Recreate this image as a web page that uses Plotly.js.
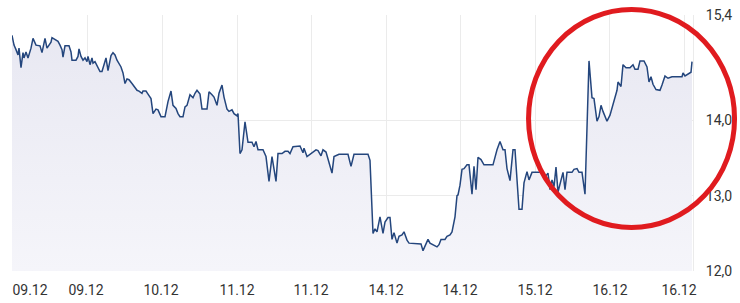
<!DOCTYPE html>
<html>
<head>
<meta charset="utf-8">
<script src="https://cdn.plot.ly/plotly-3.0.1.min.js"></script>
<style>html,body{margin:0;padding:0;background:#fff;}#chart{width:740px;height:303px;}</style>
</head>
<body>
<div id="chart"></div>
<script>
// time index (trading-time units)
const timeIdx = [0,2,4,6,7,9,11,12,14,16,19,21,24,26,28,30,33,35,37,39,40,43,46,48,50,51,53,57,59,60,
64,66,67,69,71,73,75,76,78,80,81,83,86,88,90,94,96,99,101,103,105,109,111,113,115,117,120,122,125,127,
130,131,134,136,139,141,144,146,149,153,156,159,161,164,166,168,171,173,175,178,181,183,185,188,190,195,197,200,202,205,
207,210,212,215,217,220,222,225,226,228,230,233,236,240,242,244,246,251,254,257,260,264,266,270,273,276,278,281,285,288,
291,292,295,299,302,304,306,309,311,314,317,320,322,325,327,336,339,342,356,358,361,363,365,368,371,373,376,378,380,382,
385,387,390,392,395,397,406,409,411,414,416,418,421,425,427,429,433,435,438,440,443,445,446,448,450,452,455,457,460,462,
464,466,469,471,472,481,485,488,491,493,495,498,501,503,505,507,510,512,515,517,520,530,533,536,538,540,542,544,546,549,
551,553,555,560,562,565,567,570,573,577,580,582,585,587,589,591,595,598,601,605,606,609,611,614,618,621,623,626,628,632,
635,637,639,641,644,648,650,653,656,660,670,671,673,677,679,680];
const price = [15.13,15.00,14.94,14.87,14.96,14.70,14.90,14.83,14.91,14.83,14.96,15.09,15.00,15.00,14.99,14.90,15.09,14.96,15.00,15.04,15.10,15.07,15.05,15.00,14.94,14.84,14.99,14.99,14.91,14.80,
14.80,14.85,14.95,14.85,14.80,14.83,14.78,14.85,14.74,14.83,14.76,14.78,14.71,14.65,14.65,14.83,14.66,14.86,14.90,14.87,14.80,14.71,14.63,14.49,14.55,14.54,14.49,14.45,14.40,14.39,
14.36,14.39,14.39,14.35,14.29,14.09,14.15,14.14,14.05,14.05,14.25,14.39,14.20,14.16,14.09,14.05,14.05,14.18,14.20,14.34,14.30,14.36,14.40,14.35,14.15,14.15,14.38,14.34,14.31,14.20,
14.36,14.47,14.31,14.15,14.12,14.14,14.09,14.06,14.09,13.56,13.61,13.98,13.71,13.71,13.65,13.72,13.61,13.61,13.52,13.19,13.52,13.19,13.56,13.56,13.59,13.59,13.56,13.65,13.66,13.66,
13.57,13.63,13.52,13.56,13.58,13.61,13.60,13.53,13.61,13.58,13.44,13.30,13.52,13.54,13.55,13.55,13.39,13.55,13.55,13.47,12.50,12.56,12.52,12.72,12.50,12.65,12.71,12.71,12.42,12.51,
12.37,12.46,12.48,12.52,12.41,12.37,12.37,12.36,12.27,12.36,12.42,12.37,12.35,12.32,12.35,12.42,12.42,12.46,12.48,12.52,12.72,13.00,13.01,13.14,13.35,13.36,13.41,13.41,13.02,13.39,
13.08,13.51,13.48,13.42,13.41,13.41,13.61,13.72,13.61,13.61,13.36,13.20,13.61,13.61,13.19,12.82,12.82,13.17,13.32,13.21,13.31,13.31,13.25,13.30,13.08,13.21,13.12,13.38,13.05,13.23,
13.31,13.08,13.31,13.31,13.35,13.36,13.31,13.31,13.02,14.79,14.30,14.29,13.99,14.05,14.20,14.12,13.99,14.07,14.21,14.40,14.51,14.45,14.74,14.70,14.70,14.74,14.68,14.68,14.79,14.79,
14.71,14.51,14.58,14.48,14.41,14.40,14.47,14.59,14.56,14.58,14.58,14.63,14.59,14.63,14.64,14.78];

const gridTicks = [0,75,150,225,299,374,448,523,597,672];
const labelTicks = [18,74,149,225,299,374,448,523,598,667];
const labelText = ['09.12','09.12','10.12','11.12','11.12','14.12','14.12','15.12','16.12','16.12'];
const yTicks = [12,13,14,15.4];

const trace = {
  x: timeIdx, y: price, type: 'scatter', mode: 'lines',
  line: {color: '#24467d', width: 1.5},
  fill: 'tozeroy',
  fillgradient: {type: 'vertical', start: 12, stop: 15.2,
    colorscale: [[0, 'rgb(245,245,250)'], [1, 'rgb(232,232,242)']]},
  hoverinfo: 'skip'
};

const layout = {
  width: 740, height: 303,
  margin: {l: 12, r: 47, t: 15, b: 32},
  paper_bgcolor: '#fff', plot_bgcolor: '#fff',
  separators: ',.',
  showlegend: false,
  font: {family: 'Roboto, sans-serif', size: 14, color: '#333'},
  xaxis: {range: [0, 681], tickmode: 'array', tickvals: gridTicks, showticklabels: false,
    showgrid: true, gridcolor: '#ebebeb', gridwidth: 1, zeroline: false, showline: false, ticks: '', fixedrange: true},
  xaxis2: {overlaying: 'x', anchor: 'y', side: 'bottom', range: [0, 681], tickmode: 'array',
    tickvals: labelTicks, ticktext: labelText, showgrid: false, zeroline: false, showline: false,
    ticks: '', ticklabelstandoff: 9, tickfont: {family: 'Roboto, sans-serif', size: 14, color: '#333'}},
  yaxis: {range: [12, 15.4], side: 'right', tickmode: 'array', tickvals: yTicks, tickformat: '.1f',
    showgrid: true, gridcolor: '#ebebeb', zeroline: false, showline: true, linecolor: '#ebebeb', ticks: '',
    ticklabelstandoff: 9, tickfont: {family: 'Roboto, sans-serif', size: 14, color: '#333'}, fixedrange: true},
  shapes: [{type: 'circle', xref: 'paper', yref: 'paper', x0: 0.7585, x1: 1.061, y0: 0.170, y1: 1.0215,
    line: {color: '#e01b1f', width: 5}, layer: 'above'}]
};

const dummy = {x: [0], y: [12], xaxis: 'x2', yaxis: 'y', mode: 'markers', marker: {opacity: 0}, hoverinfo: 'skip', showlegend: false};

Plotly.newPlot('chart', [trace, dummy], layout, {staticPlot: true, displayModeBar: false});
</script>
</body>
</html>
